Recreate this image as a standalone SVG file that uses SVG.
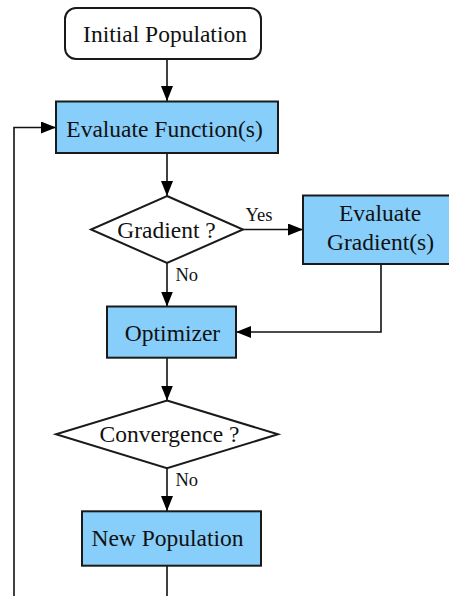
<svg xmlns="http://www.w3.org/2000/svg" width="449" height="596" viewBox="0 0 449 596">
<style>
.box{fill:#87CEFA;stroke:#1a1a1a;stroke-width:2}
.dec{fill:#ffffff;stroke:#1a1a1a;stroke-width:2}
.term{fill:#ffffff;stroke:#1a1a1a;stroke-width:2}
.t{font-family:"Liberation Serif","Times New Roman",serif;font-size:23.5px;fill:#111;text-anchor:middle}
.l{font-family:"Liberation Serif","Times New Roman",serif;font-size:18.5px;fill:#111}
.e{fill:none;stroke:#111;stroke-width:1.6}
</style>
<defs>
<marker id="ah" markerWidth="15" markerHeight="12" refX="15" refY="6" orient="auto" markerUnits="userSpaceOnUse">
<path d="M0,0 L15,6 L0,12 Z" fill="#000"/>
</marker>
</defs>
<rect width="449" height="596" fill="#ffffff"/>
<g id="connectors">
<path class="e" d="M167,59 L167,101" marker-end="url(#ah)"/>
<path class="e" d="M167,153 L167,196" marker-end="url(#ah)"/>
<path class="e" d="M243,229.5 L303,229.5" marker-end="url(#ah)"/>
<path class="e" d="M167,263 L167,306.5" marker-end="url(#ah)"/>
<path class="e" d="M381,264 L381,332 L236,332" marker-end="url(#ah)"/>
<path class="e" d="M167,358 L167,400.5" marker-end="url(#ah)"/>
<path class="e" d="M167,468 L167,511" marker-end="url(#ah)"/>
<path class="e" d="M167,566 L167,601 L14,601 L14,127.5 L56,127.5" marker-end="url(#ah)"/>
<text class="l" x="245.5" y="220.5">Yes</text>
<text class="l" x="175.5" y="280.5">No</text>
<text class="l" x="175.5" y="486">No</text>
</g>
<g id="initial">
<rect class="term" x="65" y="8" width="196" height="51" rx="11"/>
<text class="t" x="165" y="41.5">Initial Population</text>
</g>
<g id="evalfunc">
<rect class="box" x="56" y="101.5" width="222" height="51.5"/>
<text class="t" x="164.5" y="136.5">Evaluate Function(s)</text>
</g>
<g id="gradient">
<polygon class="dec" points="167,196 243,229.5 167,263 91,229.5"/>
<text class="t" x="166.5" y="238.3">Gradient ?</text>
</g>
<g id="evalgrad">
<rect class="box" x="303" y="195.5" width="152" height="68.5"/>
<text class="t" x="380" y="220.5">Evaluate</text>
<text class="t" x="380.5" y="250">Gradient(s)</text>
</g>
<g id="optimizer">
<rect class="box" x="107" y="306.5" width="129" height="51.2"/>
<text class="t" x="172.5" y="340.7">Optimizer</text>
</g>
<g id="convergence">
<polygon class="dec" points="167,400.5 278,434.3 167,468.3 56,434.3"/>
<text class="t" x="169.5" y="442.3">Convergence ?</text>
</g>
<g id="newpop">
<rect class="box" x="82" y="511.3" width="179" height="54.4"/>
<text class="t" x="167.5" y="545.7">New Population</text>
</g>
</svg>
